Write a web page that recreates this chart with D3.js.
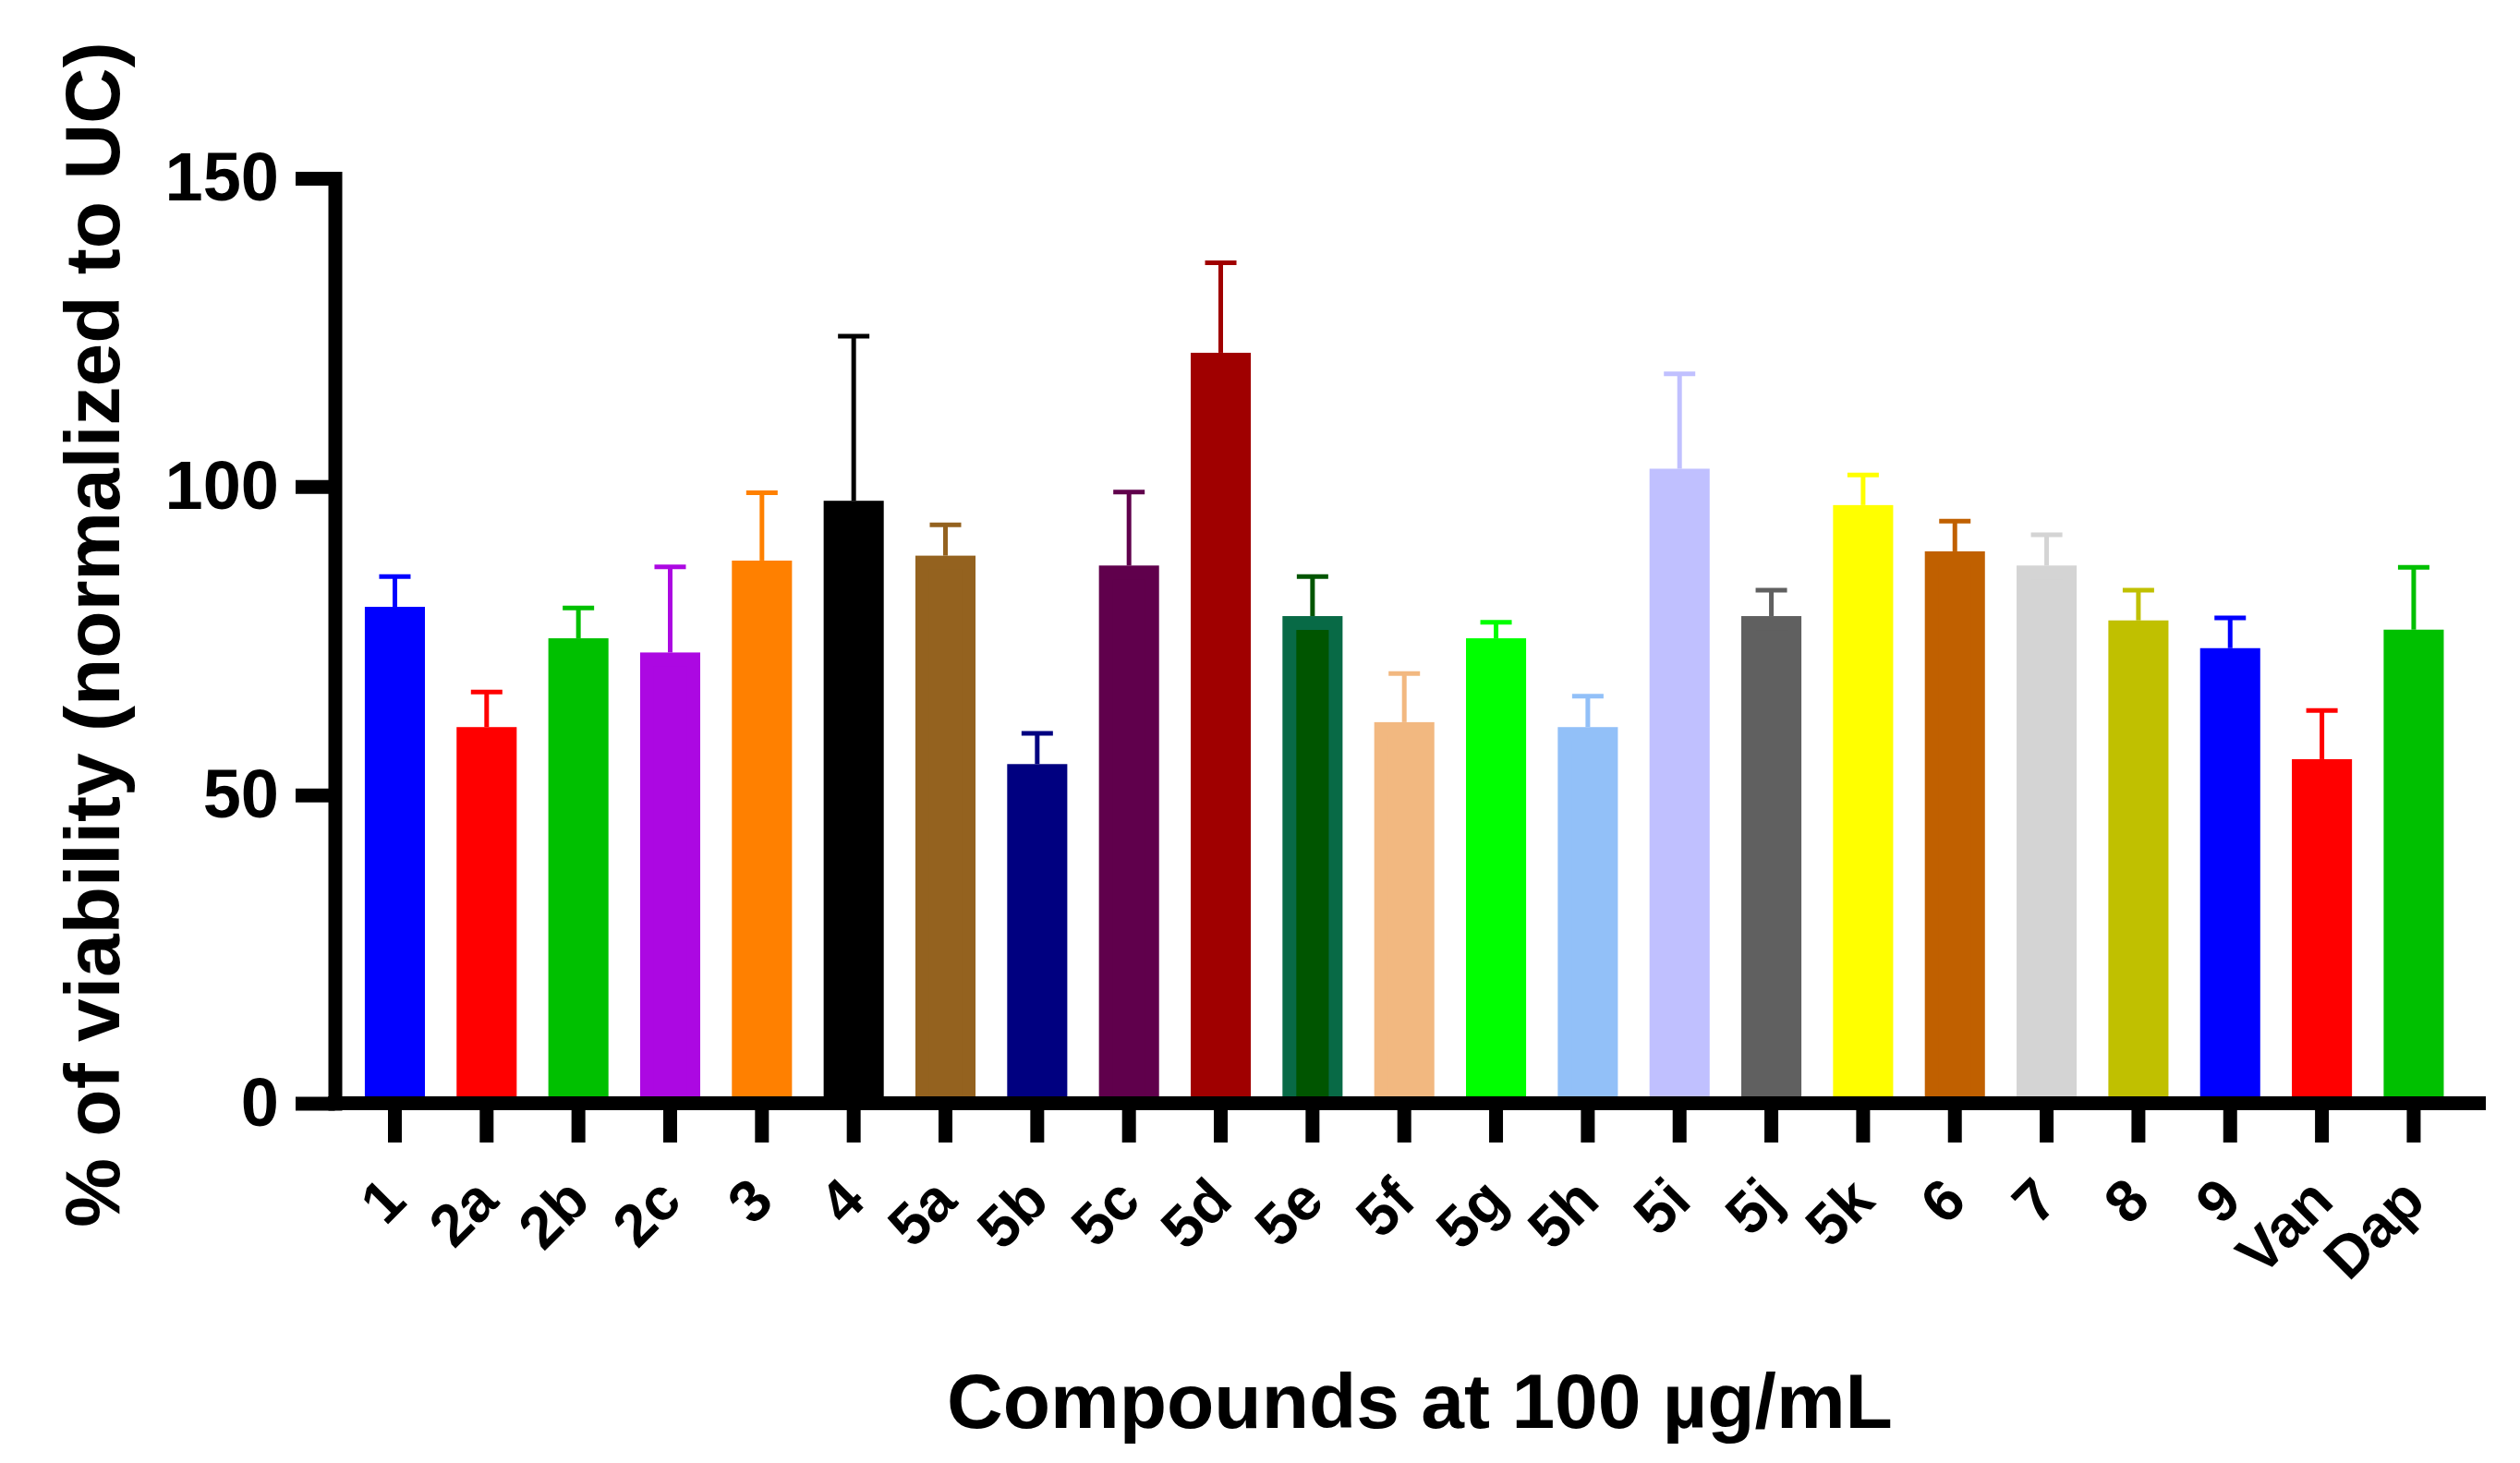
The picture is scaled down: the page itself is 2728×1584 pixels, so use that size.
<!DOCTYPE html>
<html>
<head>
<meta charset="utf-8">
<script src="https://cdn.jsdelivr.net/npm/d3@7"></script>
<style>
  html, body { margin: 0; padding: 0; background: #ffffff; }
  svg { display: block; }
  text { font-family: "Liberation Sans", Arial, Helvetica, sans-serif; font-weight: bold; fill: #000; }
</style>
</head>
<body>
<svg id="chart" width="2728" height="1584"></svg>
<script>
// ---- data ----
const categories = ["1","2a","2b","2c","3","4","5a","5b","5c","5d","5e","5f","5g","5h","5i","5j","5k","6","7","8","9","Van","Dap"];
const means = [80.5, 61.0, 75.4, 73.1, 88.0, 97.7, 88.8, 55.0, 87.2, 121.7, 79.0, 61.8, 75.4, 61.0, 102.9, 79.0, 97.0, 89.5, 87.2, 78.3, 73.8, 55.8, 76.8];
const errors = [4.9, 5.7, 4.9, 13.9, 11.0, 26.7, 5.0, 5.0, 11.9, 14.6, 6.4, 7.9, 2.6, 5.0, 15.4, 4.2, 4.9, 4.9, 5.0, 4.9, 4.9, 7.9, 10.1];
const fillColors = ["#0000FF","#FF0000","#00C000","#AC08E2","#FF8000","#000000","#94621F","#000080","#60004C","#A00000","#005500","#F2B880","#00FF00","#92C0F8","#C0C0FF","#606060","#FFFF00","#C06000","#D4D4D4","#C0C000","#0000FF","#FF0000","#00C000"];
const borderColors = ["#0000FF","#FF0000","#00C000","#AC08E2","#FF8000","#000000","#94621F","#000080","#60004C","#A00000","#086A46","#F2B880","#00FF00","#92C0F8","#C0C0FF","#606060","#FFFF00","#C06000","#D4D4D4","#C0C000","#0000FF","#FF0000","#00C000"];
const yTicks = [0, 50, 100, 150];
const yTitle = "% of viability (normalized to UC)";
const xTitle = "Compounds at 100 \u00B5g/mL";

const rows = categories.map((c, i) => ({ cat: c, mean: means[i], sd: errors[i], fill: fillColors[i], border: borderColors[i] }));

// ---- layout ----
const svg = d3.select("#chart");
const axisX = 362.5;      // y-axis line position
const axisY = 1194.5;     // x-axis line position
const AXW = 15;           // axis stroke width

const x = d3.scaleBand()
  .domain(categories)
  .range([377.8, 2662.6])
  .paddingInner(0.345)
  .paddingOuter(0.1725);

const y = d3.scaleLinear().domain([0, 150]).range([axisY, 193]);

// ---- bars ----
const bw = x.bandwidth();
const g = svg.append("g");
const BORDER = 15;
g.selectAll("rect.bar")
  .data(rows)
  .join("rect")
  .attr("class", "bar")
  .attr("x", d => x(d.cat) + BORDER / 2)
  .attr("y", d => y(d.mean) + BORDER / 2)
  .attr("width", bw - BORDER)
  .attr("height", d => y(0) - y(d.mean) - BORDER / 2)
  .attr("fill", d => d.fill)
  .attr("stroke", d => d.border)
  .attr("stroke-width", BORDER);

// ---- error bars (upper only) ----
const capW = 34;
const eb = g.selectAll("g.err").data(rows).join("g").attr("class", "err");
eb.append("line")
  .attr("x1", d => x(d.cat) + bw / 2)
  .attr("x2", d => x(d.cat) + bw / 2)
  .attr("y1", d => y(d.mean))
  .attr("y2", d => y(d.mean + d.sd))
  .attr("stroke", d => d.fill)
  .attr("stroke-width", 5);
eb.append("line")
  .attr("x1", d => x(d.cat) + bw / 2 - capW / 2)
  .attr("x2", d => x(d.cat) + bw / 2 + capW / 2)
  .attr("y1", d => y(d.mean + d.sd))
  .attr("y2", d => y(d.mean + d.sd))
  .attr("stroke", d => d.fill)
  .attr("stroke-width", 5);

// ---- y axis ----
const yAxis = svg.append("g")
  .attr("transform", `translate(${axisX},0)`)
  .call(d3.axisLeft(y).tickValues(yTicks).tickSize(42.5).tickSizeOuter(0).tickPadding(18));
yAxis.select(".domain").attr("stroke", "#000").attr("stroke-width", AXW).attr("stroke-linecap", "square");
yAxis.selectAll(".tick line").attr("stroke", "#000").attr("stroke-width", AXW);
yAxis.selectAll(".tick text")
  .style("font-size", "74px")
  .style("font-family", "'Liberation Sans', Arial, sans-serif")
  .style("font-weight", "bold")
  .attr("fill", "#000");

// ---- x axis ----
const xAxis = svg.append("g")
  .attr("transform", `translate(0,${axisY})`)
  .call(d3.axisBottom(x).tickSize(42.5).tickSizeOuter(0));
xAxis.select(".domain").remove();
xAxis.append("line")
  .attr("x1", axisX - AXW / 2).attr("x2", 2691)
  .attr("y1", 0).attr("y2", 0)
  .attr("stroke", "#000").attr("stroke-width", AXW);
xAxis.selectAll(".tick line").attr("stroke", "#000").attr("stroke-width", AXW);
xAxis.selectAll(".tick text")
  .attr("y", 0).attr("dy", 0)
  .attr("text-anchor", "end")
  .attr("transform", "translate(15,108.5) rotate(-45)")
  .style("font-size", "64px")
  .style("font-family", "'Liberation Sans', Arial, sans-serif")
  .style("font-weight", "bold")
  .attr("fill", "#000");

// ---- titles ----
svg.append("text")
  .attr("transform", "translate(129,687) rotate(-90)")
  .attr("text-anchor", "middle")
  .style("font-size", "84px")
  .text(yTitle);

svg.append("text")
  .attr("x", 1537).attr("y", 1546)
  .attr("text-anchor", "middle")
  .style("font-size", "84px")
  .text(xTitle);
</script>
</body>
</html>
